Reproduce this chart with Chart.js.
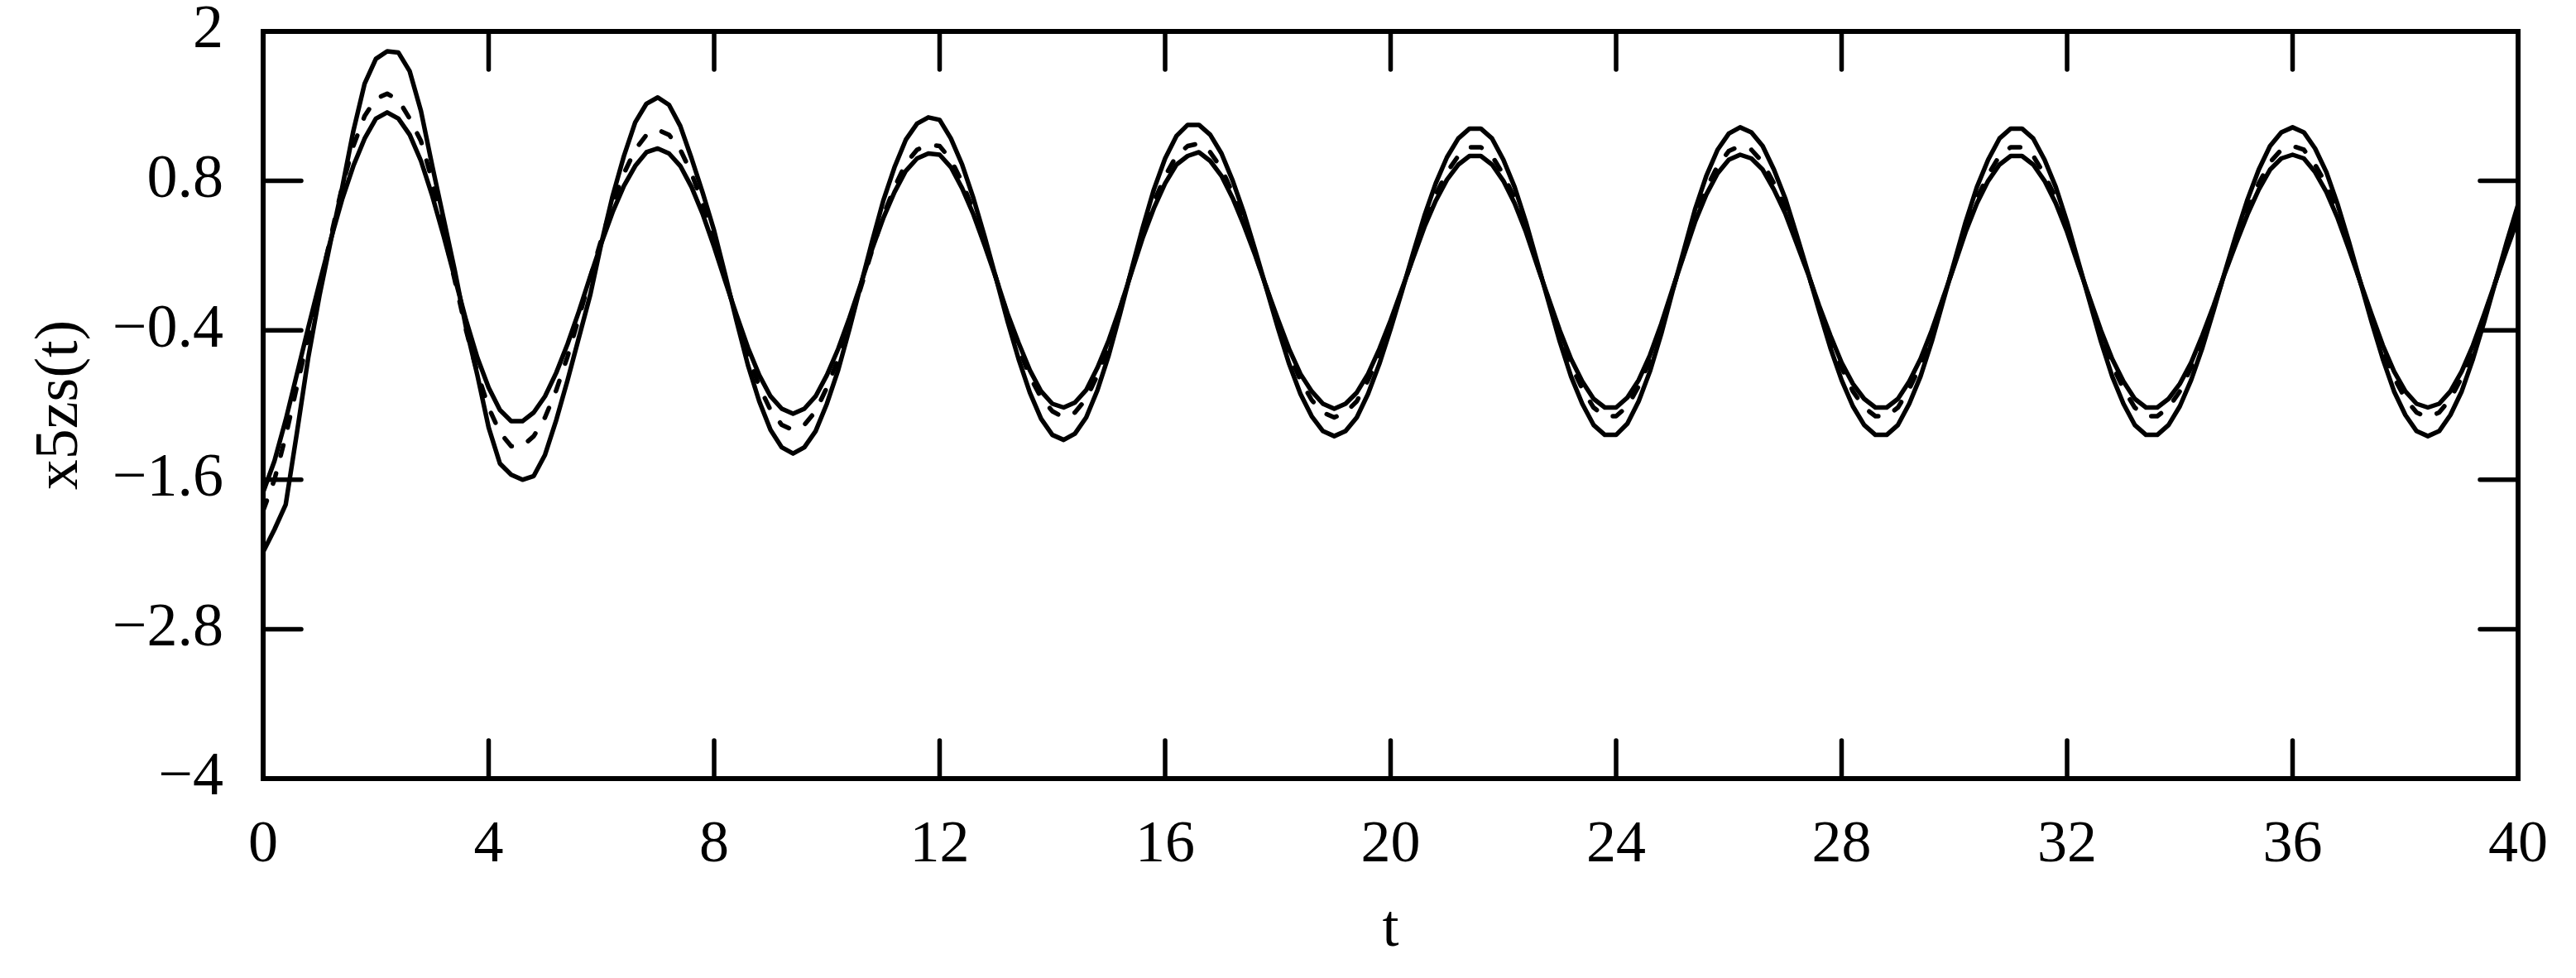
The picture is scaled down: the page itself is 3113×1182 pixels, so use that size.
<!DOCTYPE html>
<html>
<head>
<meta charset="utf-8">
<script src="https://cdn.jsdelivr.net/npm/chart.js@4/dist/chart.umd.min.js"></script>
<style>
html,body{margin:0;padding:0;background:#fff;}
#wrap{width:3113px;height:1182px;}
</style>
</head>
<body>
<div id="wrap"><canvas id="c" width="3113" height="1182"></canvas></div>
<script>
// time samples
const tValues = [
0,0.2,0.4,0.6,0.8,1,1.2,1.4,1.6,1.8,2,2.2,2.4,2.6,2.8,3,3.2,3.4,3.6,3.8,4,4.2,4.4,4.6,4.8,5,5.2,5.4,5.6,5.8,6,6.2,6.4,6.6,6.8,7,7.2,7.4,7.6,7.8,8,8.2,8.4,8.6,8.8,9,9.2,9.4,9.6,9.8,10,
10.2,10.4,10.6,10.8,11,11.2,11.4,11.6,11.8,12,12.2,12.4,12.6,12.8,13,13.2,13.4,13.6,13.8,14,14.2,14.4,14.6,14.8,15,15.2,15.4,15.6,15.8,16,16.2,16.4,16.6,16.8,17,17.2,17.4,17.6,17.8,18,18.2,18.4,18.6,18.8,19,19.2,19.4,19.6,19.8,20,
20.2,20.4,20.6,20.8,21,21.2,21.4,21.6,21.8,22,22.2,22.4,22.6,22.8,23,23.2,23.4,23.6,23.8,24,24.2,24.4,24.6,24.8,25,25.2,25.4,25.6,25.8,26,26.2,26.4,26.6,26.8,27,27.2,27.4,27.6,27.8,28,28.2,28.4,28.6,28.8,29,29.2,29.4,29.6,29.8,30,
30.2,30.4,30.6,30.8,31,31.2,31.4,31.6,31.8,32,32.2,32.4,32.6,32.8,33,33.2,33.4,33.6,33.8,34,34.2,34.4,34.6,34.8,35,35.2,35.4,35.6,35.8,36,36.2,36.4,36.6,36.8,37,37.2,37.4,37.6,37.8,38,38.2,38.4,38.6,38.8,39,39.2,39.4,39.6,39.8,40
];

// outer solid curve
const seriesOuter = [
-2.18,-2.00,-1.80,-1.22,-0.62,-0.12,0.32,0.74,1.20,1.58,1.78,
1.84,1.83,1.68,1.36,0.92,0.50,0.08,-0.38,-0.76,-1.18,-1.47,-1.56,
-1.60,-1.57,-1.40,-1.12,-0.80,-0.46,-0.12,0.30,0.68,1.00,1.27,1.42,
1.47,1.41,1.24,0.98,0.70,0.40,0.04,-0.33,-0.68,-0.97,-1.20,-1.34,
-1.39,-1.34,-1.21,-0.99,-0.72,-0.39,-0.04,0.31,0.64,0.91,1.13,1.26,
1.31,1.29,1.14,0.93,0.66,0.35,0.02,-0.32,-0.63,-0.90,-1.11,-1.24,
-1.28,-1.23,-1.10,-0.88,-0.60,-0.27,0.08,0.42,0.73,0.98,1.16,1.25,
1.25,1.17,1.02,0.80,0.54,0.24,-0.07,-0.38,-0.67,-0.91,-1.09,-1.21,
-1.25,-1.21,-1.10,-0.91,-0.67,-0.39,-0.09,0.22,0.52,0.78,0.99,1.14,
1.22,1.22,1.14,0.97,0.75,0.47,0.15,-0.17,-0.49,-0.77,-0.99,-1.16,
-1.24,-1.24,-1.15,-0.97,-0.73,-0.43,-0.09,0.24,0.57,0.84,1.05,1.18,
1.23,1.19,1.08,0.89,0.66,0.37,0.07,-0.24,-0.54,-0.80,-1.01,-1.16,
-1.24,-1.24,-1.16,-0.99,-0.77,-0.49,-0.17,0.15,0.47,0.75,0.97,1.14,
1.22,1.22,1.14,0.97,0.75,0.47,0.15,-0.17,-0.49,-0.77,-0.99,-1.16,
-1.24,-1.24,-1.16,-1.01,-0.80,-0.54,-0.24,0.07,0.37,0.65,0.89,1.08,
1.19,1.23,1.19,1.06,0.87,0.61,0.31,-0.01,-0.33,-0.63,-0.89,-1.08,
-1.21,-1.25,-1.21,-1.08,-0.89,-0.63,-0.33,-0.01,0.31,0.61
];

// middle dashed curve
const seriesDashed = [
-1.85,-1.60,-1.25,-0.85,-0.45,-0.05,0.35,0.75,1.08,1.32,1.46,
1.50,1.45,1.30,1.12,0.80,0.40,0.00,-0.40,-0.74,-1.02,-1.22,-1.33,
-1.33,-1.25,-1.10,-0.88,-0.61,-0.30,0.02,0.33,0.62,0.86,1.05,1.17,
1.21,1.17,1.05,0.86,0.61,0.32,0.01,-0.30,-0.60,-0.85,-1.04,-1.16,
-1.20,-1.16,-1.05,-0.86,-0.63,-0.35,-0.06,0.24,0.52,0.75,0.94,1.05,
1.09,1.08,0.97,0.79,0.56,0.30,0.02,-0.27,-0.54,-0.77,-0.94,-1.05,
-1.10,-1.06,-0.95,-0.76,-0.52,-0.23,0.07,0.36,0.63,0.84,1.00,1.08,
1.10,1.03,0.90,0.70,0.48,0.21,-0.06,-0.33,-0.59,-0.80,-0.96,-1.06,
-1.10,-1.06,-0.97,-0.80,-0.59,-0.34,-0.08,0.19,0.46,0.69,0.87,1.00,
1.07,1.07,1.00,0.85,0.66,0.41,0.13,-0.15,-0.43,-0.68,-0.87,-1.02,
-1.09,-1.09,-1.01,-0.85,-0.64,-0.38,-0.08,0.21,0.50,0.74,0.92,1.04,
1.08,1.05,0.95,0.78,0.58,0.33,0.06,-0.21,-0.48,-0.70,-0.89,-1.02,
-1.09,-1.09,-1.02,-0.87,-0.68,-0.43,-0.15,0.13,0.41,0.66,0.85,1.00,
1.07,1.07,1.00,0.85,0.66,0.41,0.13,-0.15,-0.43,-0.68,-0.87,-1.02,
-1.09,-1.09,-1.02,-0.89,-0.70,-0.48,-0.21,0.06,0.33,0.57,0.78,0.95,
1.05,1.08,1.05,0.93,0.77,0.54,0.27,-0.01,-0.29,-0.55,-0.78,-0.95,
-1.06,-1.10,-1.06,-0.95,-0.78,-0.55,-0.29,-0.01,0.27,0.54
];

// inner solid curve
const seriesInner = [
-1.70,-1.45,-1.12,-0.75,-0.38,-0.02,0.33,0.65,0.92,1.14,1.30,
1.35,1.30,1.17,0.96,0.68,0.36,0.02,-0.32,-0.62,-0.86,-1.04,-1.13,
-1.13,-1.06,-0.93,-0.74,-0.51,-0.25,0.03,0.30,0.55,0.76,0.92,1.03,
1.06,1.02,0.92,0.75,0.53,0.27,-0.01,-0.28,-0.54,-0.76,-0.93,-1.03,
-1.07,-1.03,-0.93,-0.76,-0.55,-0.30,-0.03,0.25,0.50,0.71,0.88,0.98,
1.02,1.01,0.91,0.74,0.53,0.28,0.02,-0.26,-0.50,-0.72,-0.89,-0.99,
-1.02,-0.98,-0.88,-0.70,-0.48,-0.22,0.06,0.34,0.58,0.78,0.93,1.00,
1.03,0.96,0.84,0.66,0.44,0.20,-0.06,-0.31,-0.55,-0.75,-0.89,-0.99,
-1.03,-0.99,-0.90,-0.75,-0.55,-0.32,-0.07,0.18,0.43,0.64,0.81,0.93,
1.00,1.00,0.93,0.80,0.62,0.39,0.12,-0.14,-0.40,-0.63,-0.81,-0.95,
-1.02,-1.02,-0.94,-0.80,-0.60,-0.35,-0.07,0.20,0.47,0.69,0.86,0.97,
1.01,0.98,0.89,0.73,0.54,0.30,0.06,-0.20,-0.44,-0.66,-0.83,-0.95,
-1.02,-1.02,-0.95,-0.81,-0.63,-0.40,-0.14,0.12,0.39,0.62,0.80,0.93,
1.00,1.00,0.93,0.80,0.62,0.39,0.12,-0.14,-0.40,-0.63,-0.81,-0.95,
-1.02,-1.02,-0.95,-0.83,-0.66,-0.44,-0.20,0.06,0.30,0.53,0.73,0.89,
0.98,1.01,0.98,0.87,0.71,0.50,0.25,-0.01,-0.27,-0.52,-0.73,-0.89,
-0.99,-1.02,-0.99,-0.89,-0.73,-0.52,-0.27,-0.01,0.25,0.50
];

const xTickValues = [0,4,8,12,16,20,24,28,32,36,40];
const xTickLabels = ['0','4','8','12','16','20','24','28','32','36','40'];
const yTickValues = [-4,-2.8,-1.6,-0.4,0.8,2];
const yTickLabels = ['\u22124','\u22122.8','\u22121.6','\u22120.4','0.8','2'];
const xTitle = 't';
const yTitle = 'x5zs(t)';

const toPts = arr => tValues.map((t, i) => ({x: t, y: arr[i]}));

const FONT = "'Liberation Serif'";
const TICK_LEN = 46;

const framePlugin = {
  id: 'frame',
  afterDatasetsDraw(chart) {
    const {ctx, chartArea: a, scales} = chart;
    ctx.save();
    ctx.strokeStyle = '#000';
    ctx.lineWidth = 5.5;
    ctx.lineCap = 'round';
    ctx.beginPath();
    xTickValues.forEach(v => {
      const px = scales.x.getPixelForValue(v);
      ctx.moveTo(px, a.bottom); ctx.lineTo(px, a.bottom - TICK_LEN);
      ctx.moveTo(px, a.top); ctx.lineTo(px, a.top + TICK_LEN);
    });
    yTickValues.forEach(v => {
      const py = scales.y.getPixelForValue(v);
      ctx.moveTo(a.left, py); ctx.lineTo(a.left + TICK_LEN, py);
      ctx.moveTo(a.right, py); ctx.lineTo(a.right - TICK_LEN, py);
    });
    ctx.stroke();
    ctx.lineWidth = 6;
    ctx.lineJoin = 'miter';
    ctx.strokeRect(a.left, a.top, a.right - a.left, a.bottom - a.top);
    ctx.restore();
  }
};

const lineStyle = {
  borderColor: '#000',
  borderWidth: 5.5,
  pointRadius: 0,
  tension: 0,
  fill: false,
  borderCapStyle: 'round',
  borderJoinStyle: 'round'
};

new Chart(document.getElementById('c'), {
  type: 'line',
  data: {
    datasets: [
      Object.assign({label: 'outer', data: toPts(seriesOuter)}, lineStyle),
      Object.assign({label: 'dashed', data: toPts(seriesDashed), borderDash: [13, 22]}, lineStyle),
      Object.assign({label: 'inner', data: toPts(seriesInner)}, lineStyle)
    ]
  },
  options: {
    responsive: false,
    animation: false,
    events: [],
    layout: {padding: {left: 0, right: 70, top: 38, bottom: 0}},
    plugins: {legend: {display: false}, tooltip: {enabled: false}},
    scales: {
      x: {
        type: 'linear', min: 0, max: 40,
        afterBuildTicks: s => { s.ticks = xTickValues.map(v => ({value: v})); },
        afterFit: s => { s.height = 241; s.paddingLeft = 0; s.paddingRight = 0; },
        grid: {display: false},
        border: {display: false},
        ticks: {
          color: '#000', padding: 30, maxRotation: 0, autoSkip: false,
          font: {family: FONT, size: 72},
          callback: (v) => { const i = xTickValues.indexOf(v); return i >= 0 ? xTickLabels[i] : ''; }
        },
        title: {display: true, text: xTitle, color: '#000', padding: 0,
          font: {family: FONT, size: 72, lineHeight: 1.61}}
      },
      y: {
        type: 'linear', min: -4, max: 2,
        afterBuildTicks: s => { s.ticks = yTickValues.map(v => ({value: v})); },
        afterFit: s => { s.width = 318; s.paddingTop = 0; s.paddingBottom = 0; },
        grid: {display: false},
        border: {display: false},
        ticks: {
          color: '#000', padding: 40, autoSkip: false,
          font: {family: FONT, size: 74},
          callback: (v) => { const i = yTickValues.findIndex(w => Math.abs(w - v) < 1e-6); return i >= 0 ? yTickLabels[i] : ''; }
        },
        title: {display: true, text: yTitle, color: '#000', padding: 0,
          font: {family: FONT, size: 74, lineHeight: 2.0}}
      }
    }
  },
  plugins: [framePlugin]
});
</script>
</body>
</html>
